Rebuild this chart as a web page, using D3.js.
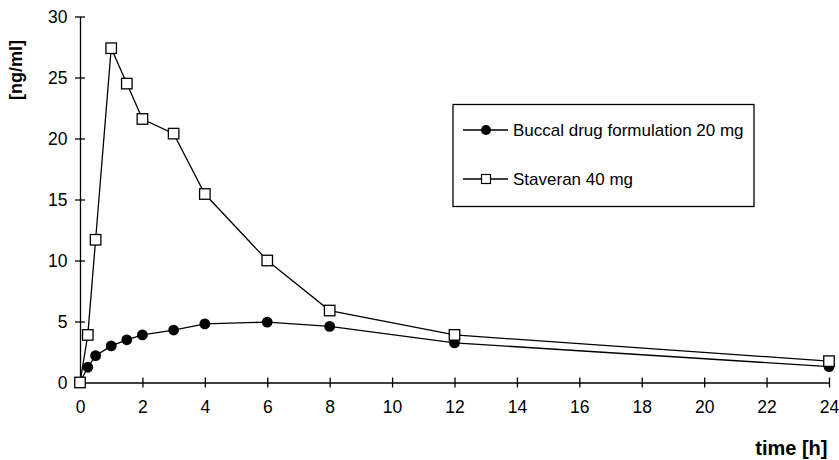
<!DOCTYPE html>
<html>
<head>
<meta charset="utf-8">
<script src="https://cdn.jsdelivr.net/npm/d3@7"></script>
<style>
  body { margin: 0; background: #fff; }
  text { font-family: "Liberation Sans", Arial, sans-serif; }
</style>
</head>
<body>
<div id="chart"></div>
<script>
// time points [h]
var times = [0, 0.25, 0.5, 1, 1.5, 2, 3, 4, 6, 8, 12, 24];
// plasma concentration [ng/ml]
var buccal = [0, 1.25, 2.2, 3.0, 3.5, 3.9, 4.3, 4.8, 4.95, 4.6, 3.25, 1.3];
var staveran = [0, 3.9, 11.7, 27.4, 24.5, 21.6, 20.4, 15.45, 10.0, 5.9, 3.9, 1.75];
var seriesNames = ["Buccal drug formulation 20 mg", "Staveran 40 mg"];
var xTicks = [0, 2, 4, 6, 8, 10, 12, 14, 16, 18, 20, 22, 24];
var yTicks = [0, 5, 10, 15, 20, 25, 30];

var width = 839, height = 460;
var svg = d3.select("#chart").append("svg")
    .attr("width", width)
    .attr("height", height);

var x = d3.scaleLinear().domain([0, 24]).range([80, 829]);
var y = d3.scaleLinear().domain([0, 30]).range([382.5, 16.5]);

// axes: ticks cross the axis line
var xAxis = svg.append("g")
    .attr("transform", "translate(0," + y(0) + ")")
    .call(d3.axisBottom(x).tickValues(xTicks).tickSize(5).tickSizeOuter(0).tickPadding(13));
xAxis.selectAll(".tick line").attr("y1", -5);
var yAxis = svg.append("g")
    .attr("transform", "translate(" + x(0) + ",0)")
    .call(d3.axisLeft(y).tickValues(yTicks).tickSize(5).tickSizeOuter(0).tickPadding(7.5));
yAxis.selectAll(".tick line").attr("x1", 5);

svg.selectAll(".domain, .tick line")
    .attr("stroke", "#000")
    .attr("stroke-width", 1.3);
svg.selectAll(".tick text")
    .attr("font-size", 17.5)
    .attr("fill", "#000")
    .style("font-family", "'Liberation Sans', Arial, sans-serif");

// axis titles
svg.append("text")
    .attr("transform", "translate(21.5,70) rotate(-90)")
    .attr("text-anchor", "middle")
    .attr("font-size", 18)
    .attr("font-weight", "bold")
    .text("[ng/ml]");
svg.append("text")
    .attr("x", 827.5)
    .attr("y", 455)
    .attr("text-anchor", "end")
    .attr("font-size", 20)
    .attr("font-weight", "bold")
    .text("time [h]");

var line = d3.line()
    .x(function(d) { return x(d[0]); })
    .y(function(d) { return y(d[1]); });

var buccalData = times.map(function(t, i) { return [t, buccal[i]]; });
var stavData = times.map(function(t, i) { return [t, staveran[i]]; });

[buccalData, stavData].forEach(function(d) {
    svg.append("path")
        .datum(d)
        .attr("d", line)
        .attr("fill", "none")
        .attr("stroke", "#000")
        .attr("stroke-width", 1.3);
});

svg.append("g").selectAll("circle")
    .data(buccalData)
    .enter()
    .append("circle")
    .attr("cx", function(d) { return x(d[0]); })
    .attr("cy", function(d) { return y(d[1]); })
    .attr("r", 5.4)
    .attr("fill", "#000");

var sq = 10.5;
svg.append("g").selectAll("rect")
    .data(stavData)
    .enter()
    .append("rect")
    .attr("x", function(d) { return x(d[0]) - sq / 2; })
    .attr("y", function(d) { return y(d[1]) - sq / 2; })
    .attr("width", sq)
    .attr("height", sq)
    .attr("fill", "#fff")
    .attr("stroke", "#000")
    .attr("stroke-width", 1.3);

// legend
var legend = svg.append("g");
legend.append("rect")
    .attr("x", 453)
    .attr("y", 104.5)
    .attr("width", 301)
    .attr("height", 102)
    .attr("fill", "#fff")
    .attr("stroke", "#000")
    .attr("stroke-width", 1.3);

var rowsY = [130, 179];
rowsY.forEach(function(ry, i) {
    legend.append("line")
        .attr("x1", 463).attr("x2", 508)
        .attr("y1", ry).attr("y2", ry)
        .attr("stroke", "#000")
        .attr("stroke-width", 1.3);
    if (i === 0) {
        legend.append("circle")
            .attr("cx", 486).attr("cy", ry).attr("r", 5)
            .attr("fill", "#000");
    } else {
        legend.append("rect")
            .attr("x", 481.5).attr("y", ry - 4.5)
            .attr("width", 9).attr("height", 9)
            .attr("fill", "#fff")
            .attr("stroke", "#000")
            .attr("stroke-width", 1.2);
    }
    legend.append("text")
        .attr("x", 513)
        .attr("y", ry)
        .attr("dy", "0.35em")
        .attr("font-size", 17)
        .text(seriesNames[i]);
});
</script>
</body>
</html>
